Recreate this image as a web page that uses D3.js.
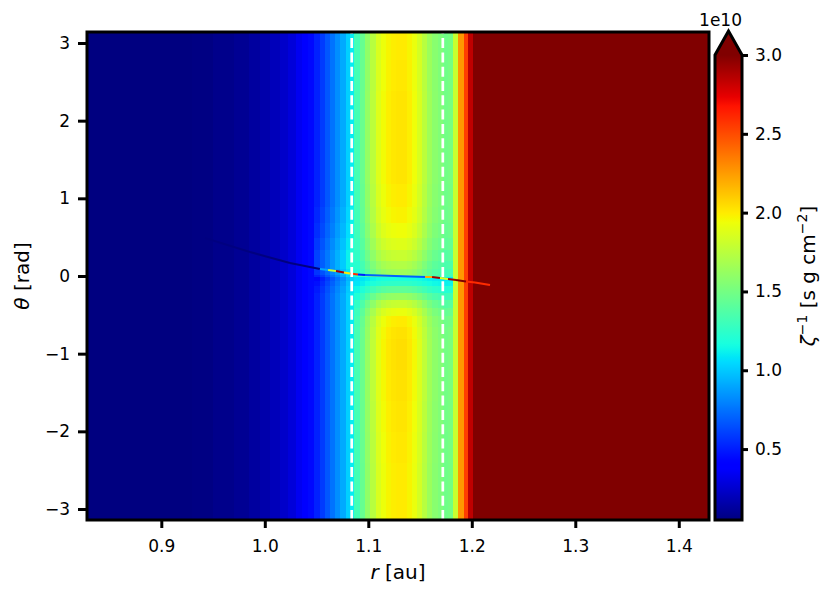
<!DOCTYPE html>
<html>
<head>
<meta charset="utf-8">
<script src="https://cdn.jsdelivr.net/npm/d3@7"></script>
<style>
body { margin: 0; background: #fff; }
text { font-family: "DejaVu Sans", sans-serif; }
</style>
</head>
<body>
<svg width="830" height="598"></svg>
<script>
// radial bin edges [au] and the ionisation-time profile (1e10 s g cm^-2) read at theta ~ 2
const rEdges = [0.8282, 0.90, 0.93, 0.95, 0.97, 0.985, 0.995, 1.005, 1.015, 1.022, 1.030, 1.036,
    1.042, 1.048, 1.053, 1.058, 1.063, 1.068, 1.073, 1.078, 1.082, 1.086, 1.092, 1.097, 1.102,
    1.107, 1.112, 1.117, 1.122, 1.127, 1.132, 1.137, 1.142, 1.147, 1.152, 1.157, 1.162, 1.167,
    1.172, 1.177, 1.182, 1.187, 1.192, 1.196, 1.201, 1.4292];
const zetaInvRef = [0.02, 0.04, 0.06, 0.08, 0.10, 0.13, 0.16, 0.20, 0.24, 0.28, 0.34,
    0.39, 0.44, 0.51, 0.59, 0.67, 0.75, 0.83, 0.91, 1.02, 1.10,
    1.32, 1.45, 1.60, 1.74, 1.86, 1.93, 1.97, 1.99, 2.00, 2.00, 1.97, 1.92, 1.84, 1.74, 1.64, 1.57, 1.53,
    1.48, 1.50, 1.80, 2.26, 2.54, 2.84, 3.5];

// theta rows and how the gap band / inner edge change with theta
const thetaEdges = [-Math.PI, -2.8, -2.4, -2.0, -1.6, -1.2, -0.8, -0.65, -0.5, -0.4, -0.3, -0.2,
    -0.12, -0.05, 0, 0.03, 0.1, 0.2, 0.35, 0.5, 0.7, 0.9, 1.2, 1.6, 2.0, 2.4, 2.8, Math.PI];
const bandFactor = [1.0, 1.0, 1.01, 1.02, 1.03, 1.04, 1.03, 1.0, 0.92, 0.8, 0.62, 0.42,
    0.25, 0.18, 0.6, 0.66, 0.72, 0.8, 0.88, 0.94, 0.98, 1.0, 1.02, 1.02, 1.02, 1.01, 1.0];
const innerAdd = [0, 0, 0, 0, 0, 0, 0, 0, 0, 0, 0, -0.02,
    -0.05, -0.08, 0, 0.06, 0.1, 0.1, 0.07, 0.04, 0.02, 0, 0, 0, 0, 0, 0];

// thin midplane wake
const wakeR = [0.9422, 0.9857, 1.0243, 1.0533, 1.0611, 1.0688, 1.0765, 1.0823, 1.0901, 1.0968,
    1.1258, 1.1548, 1.1616, 1.1693, 1.1770, 1.1848, 1.1944, 1.2031, 1.2176];
const wakeTheta = [0.489, 0.309, 0.167, 0.090, 0.077, 0.064, 0.045, 0.032, 0.019, 0.013,
    0.000, -0.013, -0.013, -0.026, -0.039, -0.051, -0.071, -0.084, -0.116];
const wakeValue = [0.05, 0.03, 0.05, 0.9, 1.8, 2.9, 2.0, 2.6, 0.5, 0.7, 0.7, 2.2, 2.9, 1.9, 2.9, 3.5, 2.6, 2.6, 2.6];

const gapEdges = [1.084, 1.172];
const xTicks = [0.9, 1.0, 1.1, 1.2, 1.3, 1.4];
const yTicks = [-3, -2, -1, 0, 1, 2, 3];
const cbTicks = [0.5, 1.0, 1.5, 2.0, 2.5, 3.0];
const vmin = 0.05, vmax = 3.0;

const svg = d3.select("svg");
const plot = {left: 87, right: 709, top: 32, bottom: 520};
const cb = {left: 715, right: 742, top: 55, bottom: 520, tip: 31};

const x = d3.scaleLinear().domain([rEdges[0], rEdges[rEdges.length - 1]]).range([plot.left, plot.right]);
const y = d3.scaleLinear().domain([-Math.PI, Math.PI]).range([plot.bottom, plot.top]);

// jet colormap
const jetR = d3.scaleLinear().domain([0, 0.35, 0.66, 0.89, 1]).range([0, 0, 1, 1, 0.5]).clamp(true);
const jetG = d3.scaleLinear().domain([0, 0.125, 0.375, 0.64, 0.91, 1]).range([0, 0, 1, 1, 0, 0]).clamp(true);
const jetB = d3.scaleLinear().domain([0, 0.11, 0.34, 0.65, 1]).range([0.5, 1, 1, 0, 0]).clamp(true);
const norm = d3.scaleLinear().domain([vmin, vmax]).range([0, 1]).clamp(true);
const jet = t => d3.rgb(255 * jetR(t), 255 * jetG(t), 255 * jetB(t)).toString();
const color = v => jet(norm(v));

// grid cells
const cells = [];
thetaEdges.slice(0, -1).forEach((t0, j) => {
    rEdges.slice(0, -1).forEach((r0, i) => {
        let v = zetaInvRef[i];
        if (r0 >= 1.086 && r0 < 1.182) v = 1 + (v - 1) * bandFactor[j];
        else if (r0 >= 1.045 && r0 < 1.086) v += innerAdd[j];
        cells.push({r0: r0, r1: rEdges[i + 1], t0: t0, t1: thetaEdges[j + 1], v: v});
    });
});

svg.append("g")
    .attr("shape-rendering", "crispEdges")
    .selectAll("rect")
    .data(cells)
    .join("rect")
    .attr("x", d => x(d.r0))
    .attr("y", d => y(d.t1))
    .attr("width", d => x(d.r1) - x(d.r0) + 1)
    .attr("height", d => y(d.t0) - y(d.t1) + 1)
    .attr("fill", d => color(d.v));

// wake
const wake = wakeR.map((r, i) => ({r: r, t: wakeTheta[i], v: wakeValue[i]}));
svg.append("g")
    .selectAll("line")
    .data(wake.slice(0, -1))
    .join("line")
    .attr("x1", d => x(d.r))
    .attr("y1", d => y(d.t))
    .attr("x2", (d, i) => x(wake[i + 1].r))
    .attr("y2", (d, i) => y(wake[i + 1].t))
    .attr("stroke", d => color(d.v))
    .attr("stroke-width", 2);

// gap edges
svg.append("g")
    .selectAll("line")
    .data(gapEdges)
    .join("line")
    .attr("x1", d => x(d)).attr("x2", d => x(d))
    .attr("y1", plot.bottom).attr("y2", plot.top)
    .attr("stroke", "#fff")
    .attr("stroke-width", 2.7)
    .attr("stroke-dasharray", "10,4.3");

// axes
const xAxis = g => g
    .attr("transform", "translate(0," + plot.bottom + ")")
    .call(d3.axisBottom(x).tickValues(xTicks).tickFormat(d3.format(".1f")).tickSize(8).tickPadding(12))
    .call(g => g.select(".domain").remove());
const yAxis = g => g
    .attr("transform", "translate(" + plot.left + ",0)")
    .call(d3.axisLeft(y).tickValues(yTicks).tickFormat(d3.format("d")).tickSize(9).tickPadding(8))
    .call(g => g.select(".domain").remove());

svg.append("g").call(xAxis);
svg.append("g").call(yAxis);

svg.append("rect")
    .attr("x", plot.left).attr("y", plot.top)
    .attr("width", plot.right - plot.left).attr("height", plot.bottom - plot.top)
    .attr("fill", "none").attr("stroke", "#000").attr("stroke-width", 3);

// colorbar
const grad = svg.append("defs").append("linearGradient")
    .attr("id", "jet").attr("x1", 0).attr("y1", 1).attr("x2", 0).attr("y2", 0);
grad.selectAll("stop")
    .data(d3.range(0, 1.0001, 0.01))
    .join("stop")
    .attr("offset", d => d)
    .attr("stop-color", d => jet(d));

svg.append("rect")
    .attr("x", cb.left).attr("y", cb.top)
    .attr("width", cb.right - cb.left).attr("height", cb.bottom - cb.top)
    .attr("fill", "url(#jet)");
const cbOutline = "M" + cb.left + "," + cb.bottom + "L" + cb.left + "," + cb.top +
    "L" + (cb.left + cb.right) / 2 + "," + cb.tip + "L" + cb.right + "," + cb.top +
    "L" + cb.right + "," + cb.bottom + "Z";
svg.append("path")
    .attr("d", "M" + cb.left + "," + cb.top + "L" + (cb.left + cb.right) / 2 + "," + cb.tip + "L" + cb.right + "," + cb.top + "Z")
    .attr("fill", jet(1));
svg.append("path")
    .attr("d", cbOutline)
    .attr("fill", "none").attr("stroke", "#000").attr("stroke-width", 3).attr("stroke-linejoin", "miter");

const cbScale = d3.scaleLinear().domain([vmin, vmax]).range([cb.bottom, cb.top]);
svg.append("g")
    .attr("transform", "translate(" + cb.right + ",0)")
    .call(d3.axisRight(cbScale).tickValues(cbTicks).tickFormat(d3.format(".1f")).tickSize(6).tickPadding(7))
    .call(g => g.select(".domain").remove());

svg.selectAll(".tick line").attr("stroke-width", 3);
svg.selectAll(".tick text").attr("font-size", 17).attr("font-family", "DejaVu Sans").attr("fill", "#000");

svg.append("text")
    .attr("x", cb.right).attr("y", 26)
    .attr("text-anchor", "end").attr("font-size", 17)
    .text("1e10");

// labels
const xl = svg.append("text")
    .attr("x", (plot.left + plot.right) / 2).attr("y", 579)
    .attr("text-anchor", "middle").attr("font-size", 20);
xl.append("tspan").attr("font-style", "italic").text("r");
xl.append("tspan").text(" [au]");

const yl = svg.append("text")
    .attr("transform", "translate(28.5," + (plot.top + plot.bottom) / 2 + ") rotate(-90)")
    .attr("text-anchor", "middle").attr("font-size", 20);
yl.append("tspan").attr("font-style", "italic").text("θ");
yl.append("tspan").text(" [rad]");

const cl = svg.append("text")
    .attr("transform", "translate(815,276) rotate(-90)")
    .attr("text-anchor", "middle").attr("font-size", 20);
cl.append("tspan").attr("font-style", "italic").text("ζ");
cl.append("tspan").attr("dy", -8).attr("font-size", 14).text("−1");
cl.append("tspan").attr("dy", 8).text(" [s g cm");
cl.append("tspan").attr("dy", -8).attr("font-size", 14).text("−2");
cl.append("tspan").attr("dy", 8).text("]");
</script>
</body>
</html>
